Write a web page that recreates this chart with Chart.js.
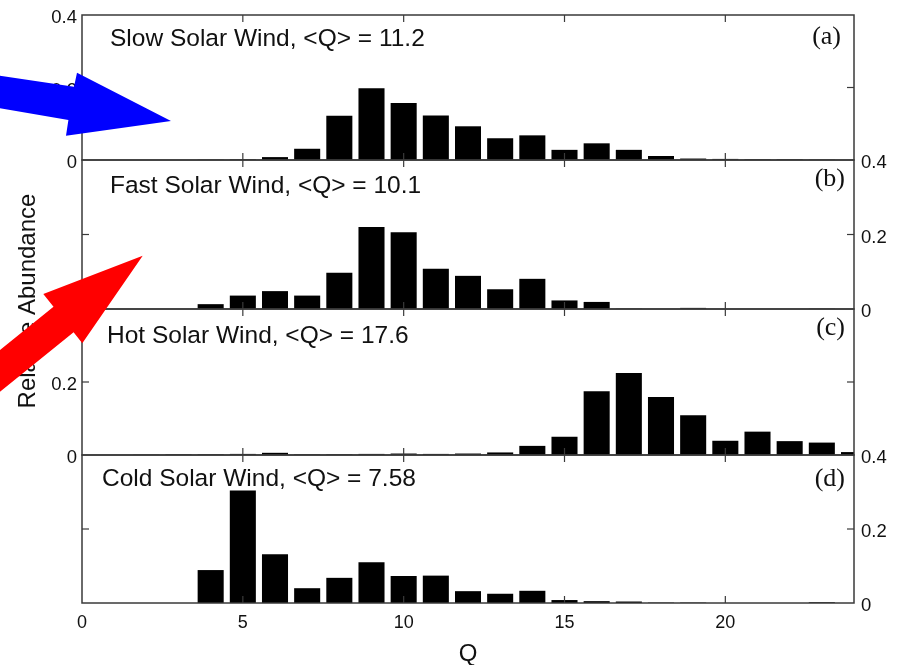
<!DOCTYPE html>
<html><head><meta charset="utf-8">
<script src="https://cdn.jsdelivr.net/npm/chart.js@4.4.1/dist/chart.umd.min.js"></script>
<style>
html,body{margin:0;padding:0;background:#fff;}
#wrap{position:relative;width:905px;height:665px;overflow:hidden;background:#fff;}
#wrap canvas{position:absolute;left:0;top:0;}
</style></head><body>
<div id="wrap">
<canvas id="c0" width="905" height="665"></canvas>
<canvas id="c1" width="905" height="665"></canvas>
<canvas id="c2" width="905" height="665"></canvas>
<canvas id="c3" width="905" height="665"></canvas>
</div>
<script>
// ---------- data ----------
const qValues   = [1,2,3,4,5,6,7,8,9,10,11,12,13,14,15,16,17,18,19,20,21,22,23,24];
const slowWind  = [0,0,0,0.001,0.002,0.008,0.031,0.122,0.198,0.157,0.123,0.093,0.060,0.068,0.028,0.046,0.028,0.011,0.004,0.003,0.002,0.002,0.001,0];
const fastWind  = [0,0,0,0.013,0.036,0.048,0.036,0.097,0.220,0.206,0.108,0.089,0.053,0.081,0.023,0.019,0.001,0,0.003,0,0,0,0.001,0];
const hotWind   = [0,0.001,0.002,0.002,0.003,0.006,0.002,0.002,0.003,0.004,0.003,0.004,0.007,0.025,0.050,0.175,0.225,0.159,0.109,0.039,0.064,0.038,0.034,0.008];
const coldWind  = [0,0,0,0.089,0.304,0.132,0.040,0.068,0.110,0.073,0.074,0.032,0.025,0.033,0.008,0.005,0.004,0.001,0.001,0,0,0,0.002,0];
const panelTitles  = ['Slow Solar Wind, <Q> = 11.2','Fast Solar Wind, <Q> = 10.1','Hot Solar Wind, <Q> = 17.6','Cold Solar Wind, <Q> = 7.58'];
const panelLetters = ['(a)','(b)','(c)','(d)'];
const yTickValues  = [0, 0.2, 0.4];
const yTickLabels  = ['0','0.2','0.4'];
const xTickValues  = [0, 5, 10, 15, 20];
const yAxisTitle = 'Relative Abundance';
const xAxisTitle = 'Q';

// ---------- layout / style ----------
const W = 905, H = 665;
const PLOT_LEFT = 82, PLOT_RIGHT = 854;
const AXIS_W = 48;
const SANS = '"Liberation Sans", Arial, Helvetica, sans-serif';
const SERIF = '"Liberation Serif", "Times New Roman", serif';
const INK = '#111';
const FRAME = '#3a3a3a';
const panels = [
  {values: slowWind, top: 15,  bottom: 160, side: 'left',  showTop: true,  titleX: 110, titleDy: 31,   letterX: 841, letterDy: 29.4},
  {values: fastWind, top: 160, bottom: 309, side: 'right', showTop: true,  titleX: 110, titleDy: 32.5, letterX: 845, letterDy: 25.5},
  {values: hotWind,  top: 309, bottom: 455, side: 'left',  showTop: false, titleX: 107, titleDy: 34,   letterX: 845, letterDy: 26},
  {values: coldWind, top: 455, bottom: 603, side: 'right', showTop: true,  titleX: 102, titleDy: 31,   letterX: 845, letterDy: 31}
];

Chart.defaults.font.family = SANS;
Chart.defaults.color = INK;

function line(ctx, x1, y1, x2, y2){ ctx.beginPath(); ctx.moveTo(x1,y1); ctx.lineTo(x2,y2); ctx.stroke(); }

const framePlugin = {
  id: 'frame',
  afterDatasetsDraw(chart, args, o) {
    const {ctx, chartArea: a, scales} = chart;
    ctx.save();
    ctx.strokeStyle = FRAME; ctx.lineWidth = 1.5;
    ctx.strokeRect(a.left, a.top, a.right - a.left, a.bottom - a.top);
    ctx.lineWidth = 1.2;
    for (const v of xTickValues) {
      if (v === 0) continue;
      const px = scales.x.getPixelForValue(v);
      line(ctx, px, a.top, px, a.top + 7);
      line(ctx, px, a.bottom - 7, px, a.bottom);
    }
    const py = scales.y.getPixelForValue(0.2);
    line(ctx, a.left, py, a.left + 7, py);
    line(ctx, a.right - 7, py, a.right, py);
    ctx.fillStyle = INK;
    ctx.textBaseline = 'alphabetic';
    ctx.textAlign = 'left';
    ctx.font = '24.5px ' + SANS;
    ctx.fillText(o.title, o.titleX, a.top + o.titleDy);
    ctx.textAlign = 'right';
    ctx.font = '26px ' + SERIF;
    ctx.fillText(o.letter, o.letterX, a.top + o.letterDy);
    ctx.restore();
  }
};

const overlayPlugin = {
  id: 'overlay',
  afterDraw(chart) {
    const ctx = chart.ctx;
    ctx.save();
    ctx.translate(35, 301);
    ctx.rotate(-Math.PI / 2);
    ctx.fillStyle = INK;
    ctx.font = '24px ' + SANS;
    ctx.textAlign = 'center';
    ctx.textBaseline = 'alphabetic';
    ctx.fillText(yAxisTitle, 0, 0);
    ctx.restore();
    const poly = (pts, col) => {
      ctx.save(); ctx.fillStyle = col; ctx.beginPath();
      pts.forEach((p, i) => i ? ctx.lineTo(p[0], p[1]) : ctx.moveTo(p[0], p[1]));
      ctx.closePath(); ctx.fill(); ctx.restore();
    };
    poly([[0,75.7],[74,86.7],[77,72.7],[171,121],[66,135.7],[68.4,120],[0,108.3]], '#0000ff');
    poly([[0,350],[53.5,306.8],[43.3,294],[142.7,255.7],[82.3,343.3],[73.6,332.3],[0,391.7]], '#ff0000');
  }
};

panels.forEach((p, idx) => {
  const isLast = idx === panels.length - 1;
  const plugins = [framePlugin];
  if (isLast) plugins.push(overlayPlugin);
  const pad = {
    left: p.side === 'left' ? PLOT_LEFT - AXIS_W : PLOT_LEFT,
    right: p.side === 'right' ? W - PLOT_RIGHT - AXIS_W : W - PLOT_RIGHT,
    top: p.top,
    bottom: isLast ? 0 : H - p.bottom
  };
  new Chart(document.getElementById('c' + idx), {
    type: 'bar',
    data: {
      datasets: [{
        data: qValues.map((q, i) => ({x: q, y: p.values[i]})),
        backgroundColor: '#000',
        borderWidth: 0,
        barPercentage: 0.81,
        categoryPercentage: 1
      }]
    },
    options: {
      responsive: false,
      animation: false,
      devicePixelRatio: 1,
      events: [],
      layout: {padding: pad},
      plugins: {
        legend: {display: false},
        tooltip: {enabled: false},
        frame: {title: panelTitles[idx], letter: panelLetters[idx], titleX: p.titleX, titleDy: p.titleDy, letterX: p.letterX, letterDy: p.letterDy}
      },
      scales: {
        x: {
          type: 'linear', min: 0, max: 24, offset: false,
          display: isLast,
          afterFit: s => { if (isLast) s.height = H - p.bottom; },
          grid: {display: false, drawTicks: false, offset: false},
          border: {display: false},
          ticks: {
            stepSize: 5, includeBounds: false, padding: 9,
            font: {size: 18}, color: INK,
            callback: v => xTickValues.includes(v) ? String(v) : null
          },
          title: {display: true, text: xAxisTitle, font: {size: 24, lineHeight: 0.85}, padding: {top: 0, bottom: 0}, color: INK}
        },
        y: {
          type: 'linear', position: p.side, min: 0, max: 0.4,
          afterFit: s => { s.width = AXIS_W; },
          grid: {display: false, drawTicks: false},
          border: {display: false},
          ticks: {
            stepSize: 0.2, padding: p.side === 'left' ? 5 : 7,
            font: {size: 18.5, lineHeight: 0.33}, color: INK,
            callback: v => {
              const k = yTickValues.findIndex(t => Math.abs(t - v) < 1e-6);
              if (k < 0) return null;
              if (k === 2 && !p.showTop) return '';
              return ['', yTickLabels[k]];
            }
          }
        }
      }
    },
    plugins: plugins
  });
});
</script>
</body></html>
